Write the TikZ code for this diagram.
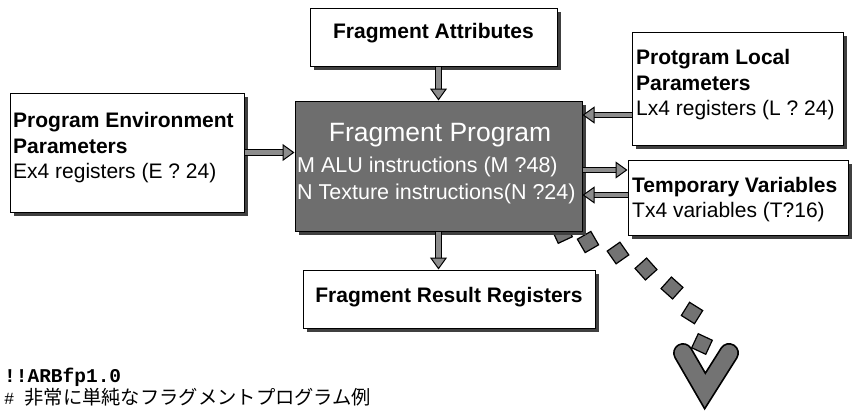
\documentclass[tikz,border=0pt]{standalone}
\usepackage{fontspec}
\setmainfont{Liberation Sans}
\newfontfamily\cjkfont{Noto Sans CJK JP}
\newfontfamily\codefont{Liberation Mono}
\usetikzlibrary{arrows.meta,shadows}
\definecolor{progfill}{gray}{0.43}
\definecolor{shaftgray}{gray}{0.55}
\definecolor{chaingray}{gray}{0.45}
\tikzset{
  box/.style={draw=black, line width=1pt, fill=white, inner sep=0pt,
    drop shadow={shadow xshift=3.5pt, shadow yshift=-3.5pt, fill=black!75, opacity=1}},
  progbox/.style={box, fill=progfill},
  boldtxt/.style={font=\fontsize{21}{25}\bfseries\selectfont, inner sep=0pt},
  regtxt/.style={font=\fontsize{21}{25}\selectfont, inner sep=0pt},
  whitetxt/.style={font=\fontsize{21.5}{25}\selectfont, inner sep=0pt, text=white},
  fat/.style={draw=black, line width=1pt, double=shaftgray, double distance=4.5pt,
    -{Triangle[length=12pt, width=17pt, fill=shaftgray, color=black, line width=1pt]}},
  chainsq/.style={draw=black, line width=1.2pt, fill=chaingray, minimum size=15.5pt, inner sep=0pt},
}
\begin{document}
\begin{tikzpicture}[x=1pt, y=-1pt]
\useasboundingbox (0,0) rectangle (854,410);

% chain of squares (drawn first, partly hidden by the program box)
\foreach \i/\cx/\cy/\r in {1/562/233/25, 2/588/242/30, 3/618/253/35, 4/646/269/42, 5/672/288/48, 6/692/313/58, 7/702/344/65}
  \node[chainsq, rotate=\r] (sq\i) at (\cx,\cy) {};

% V chevron
\draw[line width=20pt, black, line cap=round, line join=miter] (683,353) -- (705,391) -- (729,353);
\draw[line width=16.5pt, chaingray, line cap=round, line join=miter] (683,353) -- (705,391) -- (729,353);

% boxes
\node[box, minimum width=247pt, minimum height=58pt] (fa) at (433.5,37) {};
\node[boldtxt, anchor=base] (fat) at (433.5,38) {Fragment Attributes};

\node[box, minimum width=234pt, minimum height=119pt] (env) at (127,152.5) {};
\node[boldtxt, anchor=base west] (env1) at (13,127.5) {Program Environment};
\node[boldtxt, anchor=base west] (env2) at (13,153) {Parameters};
\node[regtxt, anchor=base west] (env3) at (13,178.5) {Ex4 registers (E ? 24)};

\node[progbox, minimum width=287pt, minimum height=130pt] (prog) at (438.5,166) {};
\node[font=\fontsize{26.5}{30}\selectfont, text=white, inner sep=0pt, anchor=base] (prog1) at (440,141) {Fragment Program};
\node[whitetxt, anchor=base west] (prog2) at (297,172.5) {M ALU instructions (M ?48)};
\node[whitetxt, anchor=base west] (prog3) at (297,199.5) {N Texture instructions(N ?24)};

\node[box, minimum width=211pt, minimum height=113pt] (loc) at (737.5,88.5) {};
\node[boldtxt, anchor=base west] (loc1) at (636,64.5) {Protgram Local};
\node[boldtxt, anchor=base west] (loc2) at (636,90) {Parameters};
\node[regtxt, anchor=base west] (loc3) at (636,115.5) {Lx4 registers (L ? 24)};

\node[box, minimum width=220pt, minimum height=75pt] (tmp) at (738,197.5) {};
\node[boldtxt, anchor=base west] (tmp1) at (632,192.5) {Temporary Variables};
\node[regtxt, anchor=base west] (tmp2) at (632,217.5) {Tx4 variables (T?16)};

\node[box, minimum width=292pt, minimum height=58pt] (res) at (449,299) {};
\node[boldtxt, anchor=base] (rest) at (449,302) {Fragment Result Registers};

% connectors
\coordinate (la) at (loc.west |- 0,115);
\coordinate (ta) at (tmp.west |- 0,170);
\coordinate (tb) at (tmp.west |- 0,195);
\draw[fat] (prog.north |- fa.south) -- (prog.north);
\draw[fat] (prog.south) -- (prog.south |- res.north);
\draw[fat] (env.east) -- (env.east -| prog.west);
\draw[fat] (la) -- (la -| prog.east);
\draw[fat] (ta -| prog.east) -- (ta);
\draw[fat] (tb) -- (tb -| prog.east);

% code lines
\node[font=\fontsize{19.5}{22}\codefont\bfseries\selectfont, inner sep=0pt, anchor=base west] (code1) at (4,382) {!!ARBfp1.0};
\node[inner sep=0pt, anchor=base west] (code2) at (4,404) {{\fontsize{17}{20}\codefont\selectfont\#}\hspace{10pt}{\fontsize{19.3}{22}\cjkfont\selectfont 非常に単純なフラグメントプログラム例}};
\end{tikzpicture}
\end{document}
